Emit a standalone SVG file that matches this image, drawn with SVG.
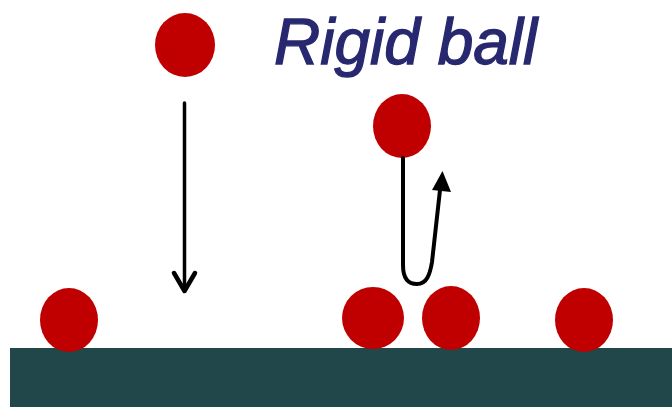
<svg xmlns="http://www.w3.org/2000/svg" width="672" height="407" viewBox="0 0 672 407">
<style>
.ball{fill:#C00000}
.conn{fill:none;stroke:#000;stroke-linecap:round;stroke-linejoin:round}
.title{font-family:"Liberation Sans",Arial,sans-serif;font-style:italic;font-size:64px;fill:#27286F;stroke:#27286F;stroke-width:1.3}
</style>
<rect width="672" height="407" fill="#fff"/>
<g id="ground"><rect x="10" y="348" width="662" height="59" fill="#21474A"/></g>
<g id="title"><text class="title" x="274" y="64">Rigid ball</text></g>
<g id="ball-top"><ellipse class="ball" cx="185" cy="45" rx="30" ry="32"/></g>
<g id="ball-mid"><ellipse class="ball" cx="402" cy="126" rx="29" ry="32"/></g>
<g id="ball-1"><ellipse class="ball" cx="69" cy="320" rx="29" ry="32"/></g>
<g id="ball-2"><ellipse class="ball" cx="373" cy="318" rx="31" ry="31"/></g>
<g id="ball-3"><ellipse class="ball" cx="451" cy="318" rx="29" ry="32"/></g>
<g id="ball-4"><ellipse class="ball" cx="584" cy="320" rx="29" ry="32"/></g>
<g id="connectors">
<path class="conn" stroke-width="3.5" d="M184.5,103 L184.5,290"/>
<path class="conn" stroke-width="4.5" d="M174,273 L184.5,291 L195,273"/>
<path class="conn" stroke-width="4" d="M403,158 L403,265 C403,280 409,284 417,284 C427,284 430,274 432,262 L440,190"/>
<path d="M442.5,171 L451,192 L432,190 Z" fill="#000"/>
</g>
</svg>
